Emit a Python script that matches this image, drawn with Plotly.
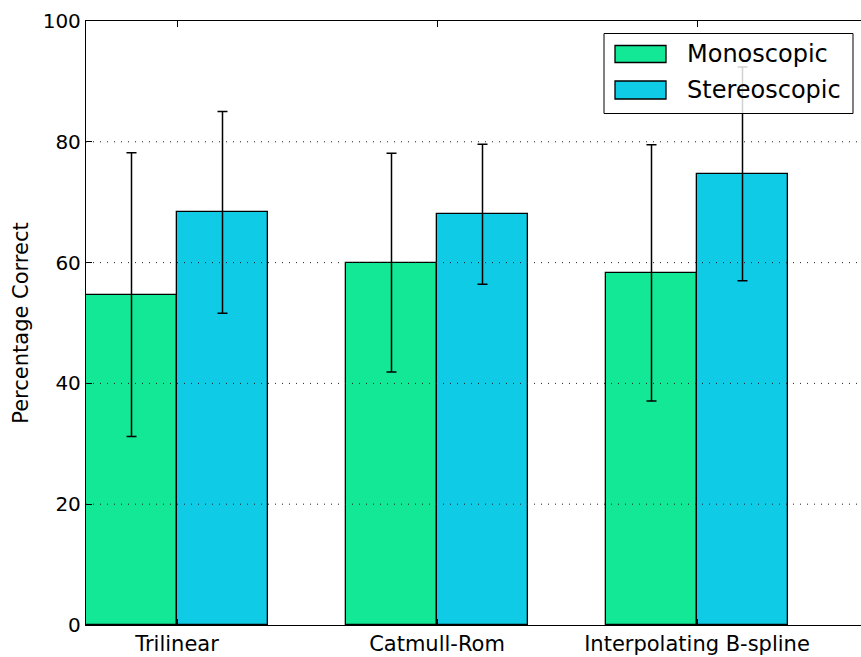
import plotly.graph_objects as go

# Recognition accuracy per interpolation method
methods = ["Trilinear", "Catmull-Rom", "Interpolating B-spline"]
mono_mean = [54.7, 60.0, 58.3]
mono_err = [23.5, 18.1, 21.2]
stereo_mean = [68.3, 68.0, 74.7]
stereo_err = [16.7, 11.6, 17.7]
series_names = ["Monoscopic", "Stereoscopic"]
y_ticks = [0, 20, 40, 60, 80, 100]

MONO_COLOR = "#12E896"
STEREO_COLOR = "#10CBE6"
BAR_W = 0.35
FONT = "DejaVu Sans"

ind = list(range(len(methods)))

fig = go.Figure()
for name, means, errs, shift, color in [
    (series_names[0], mono_mean, mono_err, 0.0, MONO_COLOR),
    (series_names[1], stereo_mean, stereo_err, BAR_W, STEREO_COLOR),
]:
    fig.add_trace(go.Bar(
        x=[i + shift for i in ind],
        y=means,
        width=BAR_W,
        offset=0,
        name=name,
        marker=dict(color=color, line=dict(color="black", width=1.3)),
        error_y=dict(type="data", array=errs, visible=True,
                     color="black", thickness=1.5, width=5),
        showlegend=False,
    ))

# dotted horizontal grid drawn over the bars
for t in y_ticks[1:-1]:
    fig.add_shape(type="line", xref="paper", yref="y", x0=0, x1=1, y0=t, y1=t,
                  line=dict(color="#222222", width=1, dash="1px,6px"), layer="above")

# legend box
def px_x(p):
    return (p - 86) / 775

def px_y(p):
    return (625 - p) / 604

fig.add_shape(type="rect", xref="paper", yref="paper",
              x0=px_x(604), x1=px_x(853), y0=px_y(113.5), y1=px_y(33.5),
              fillcolor="rgba(255,255,255,0.82)", line=dict(color="black", width=1),
              layer="above")
for (name, color, top, bot, cy) in [
    (series_names[0], MONO_COLOR, 45.5, 62.5, 54),
    (series_names[1], STEREO_COLOR, 81, 99, 90),
]:
    fig.add_shape(type="rect", xref="paper", yref="paper",
                  x0=px_x(615), x1=px_x(666), y0=px_y(bot), y1=px_y(top),
                  fillcolor=color, line=dict(color="black", width=1.3), layer="above")
    fig.add_annotation(xref="paper", yref="paper", x=px_x(685), y=px_y(cy),
                       xanchor="left", yanchor="middle", text=name, showarrow=False,
                       font=dict(family=FONT, size=24, color="black"))

fig.update_layout(
    width=861, height=657,
    margin=dict(l=86, r=0, t=21, b=32),
    plot_bgcolor="white", paper_bgcolor="white",
    font=dict(family=FONT, size=20, color="black"),
    bargap=0,
)
fig.update_xaxes(
    range=[0, (861 - 86) / 260],
    tickvals=[i + BAR_W for i in ind], ticktext=methods,
    ticks="inside", ticklen=6, tickcolor="black",
    showline=True, linecolor="black", linewidth=1.3, mirror="ticks",
    showgrid=False, zeroline=False,
    tickfont=dict(family=FONT, size=21),
)
fig.update_yaxes(
    range=[0, 100], tickvals=y_ticks,
    ticks="inside", ticklen=6, tickcolor="black",
    showline=True, linecolor="black", linewidth=1.3, mirror=False,
    showgrid=False, zeroline=False,
    tickfont=dict(family=FONT, size=20),
    title=dict(text="Percentage Correct", font=dict(family=FONT, size=21), standoff=8),
)

fig.write_html("out.html")
